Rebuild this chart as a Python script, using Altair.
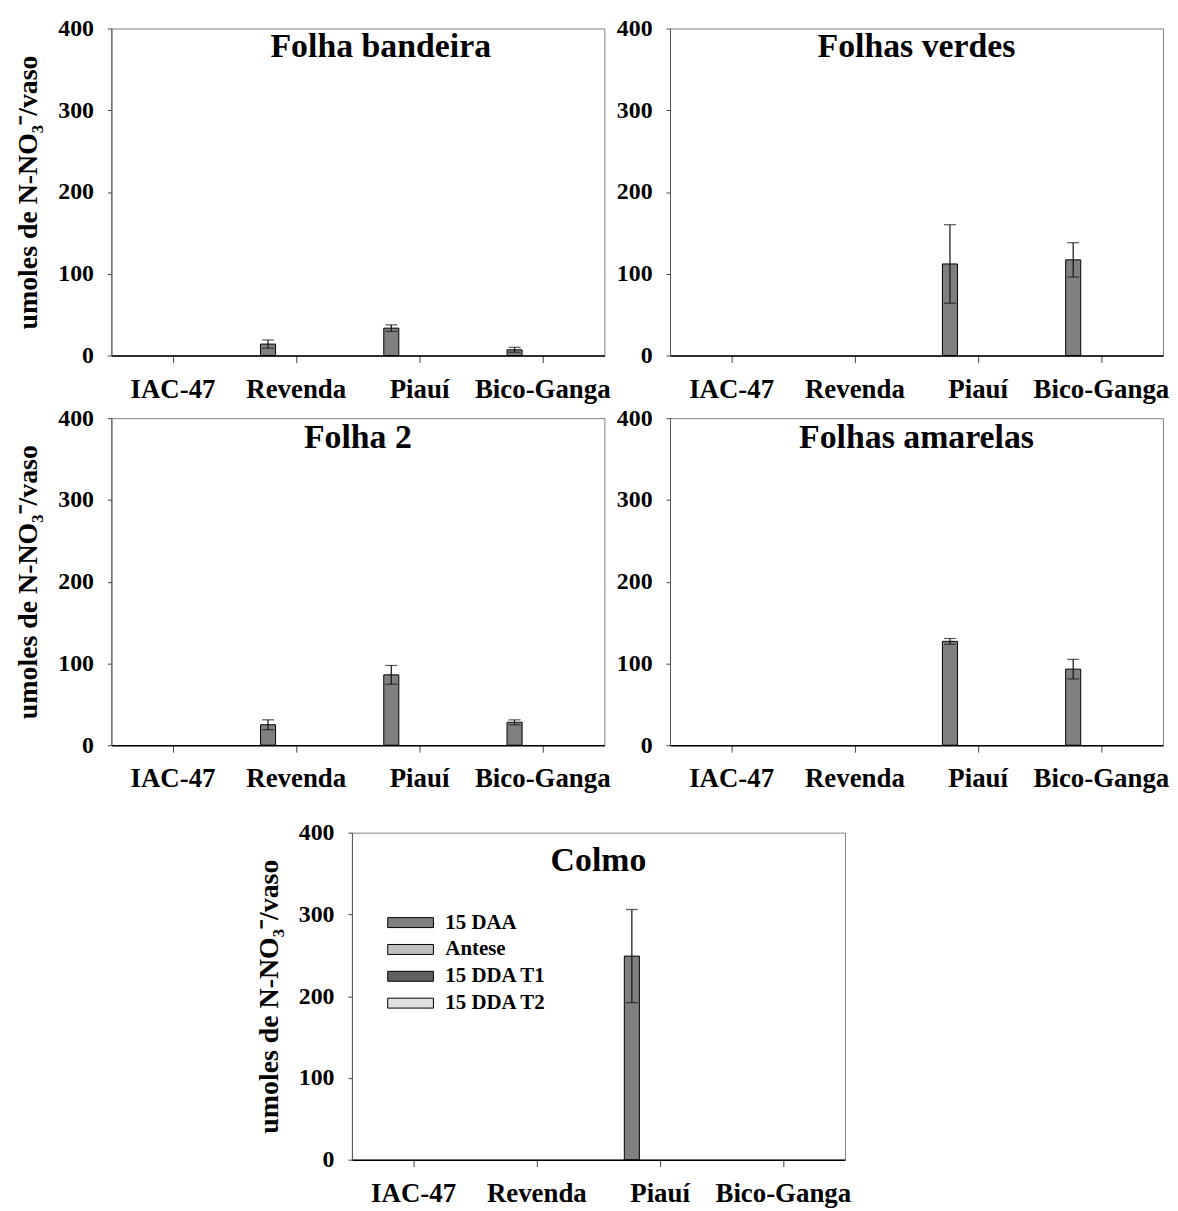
import altair as alt
import pandas as pd

cultivars = ["IAC-47", "Revenda", "Piauí", "Bico-Ganga"]
series = ["15 DAA", "Antese", "15 DDA T1", "15 DDA T2"]
series_colors = ["#808080", "#c0c0c0", "#606060", "#e0e0e0"]
panels = ["Folha bandeira", "Folhas verdes", "Folha 2", "Folhas amarelas", "Colmo"]

# 15 DAA means and error (cultivar order)
folha_bandeira_daa = [0, 14, 33.5, 7]
folha_bandeira_err = [0, 5, 4, 3]
folhas_verdes_daa = [0, 0, 112, 117]
folhas_verdes_err = [0, 0, 48, 21]
folha2_daa = [0, 25, 86, 28]
folha2_err = [0, 6, 11.5, 3]
folhas_amarelas_daa = [0, 0, 127, 93]
folhas_amarelas_err = [0, 0, 3.5, 12]
colmo_daa = [0, 0, 249, 0]
colmo_err = [0, 0, 57, 0]
# other series: zero everywhere
antese = [0, 0, 0, 0]
dda_t1 = [0, 0, 0, 0]
dda_t2 = [0, 0, 0, 0]

FONT = "Liberation Serif"
W, H = 496, 329
YTITLE = "umoles de N-NO\u2083\u207b/vaso"


def x_enc():
    return alt.X(
        "cultivar:N",
        sort=cultivars,
        scale=alt.Scale(domain=cultivars, paddingInner=0.42, paddingOuter=0.21),
        axis=alt.Axis(
            title=None, labelAngle=0, labelFont=FONT, labelFontWeight="bold",
            labelFontSize=27, labelColor="black", labelPadding=14, labelOverlap=False,
            tickSize=7, tickColor="#444", domainColor="black", domainWidth=1.5,
        ),
    )


def xo_enc():
    return alt.XOffset(
        "serie:N", sort=series,
        scale=alt.Scale(domain=series, paddingInner=0.2, paddingOuter=0),
    )


def y_enc(field, show_title):
    ax = dict(
        values=[0, 100, 200, 300, 400], grid=False, labelFlush=False,
        labelFont=FONT, labelFontWeight="bold", labelFontSize=24, labelColor="black",
        labelPadding=14, tickSize=4, tickColor="#444", domainColor="#555",
        titleFont=FONT, titleFontWeight="bold", titleFontSize=28, titleColor="black",
        titlePadding=15,
    )
    ax["title"] = YTITLE if show_title else None
    return alt.Y(field, scale=alt.Scale(domain=[0, 400], nice=False), axis=alt.Axis(**ax))


def panel(name, daa, err, show_ytitle, show_legend, title_dx, title_y):
    rows = []
    for s, vals in zip(series, [daa, antese, dda_t1, dda_t2]):
        for c, v in zip(cultivars, vals):
            rows.append({"cultivar": c, "serie": s, "valor": v})
    df = pd.DataFrame(rows)
    edf = pd.DataFrame({"cultivar": cultivars, "valor": daa, "err": err})
    edf["serie"] = series[0]
    edf = edf[edf["err"] > 0].copy()
    edf["lo"] = edf["valor"] - edf["err"]
    edf["hi"] = edf["valor"] + edf["err"]

    if show_legend:
        legend = alt.Legend(
            title=None, orient="none", legendX=48.5, legendY=80, padding=0,
            symbolType="M-4.6,-1H4.6V1H-4.6Z", symbolSize=100,
            symbolStrokeColor="black", symbolStrokeWidth=1, symbolOpacity=1,
            labelFont=FONT, labelFontWeight="bold", labelFontSize=21,
            labelColor="black", labelOffset=24.5, rowPadding=5,
        )
    else:
        legend = None

    color = alt.Color("serie:N", sort=series,
                      scale=alt.Scale(domain=series, range=series_colors),
                      legend=legend)

    bars = alt.Chart(df).transform_filter("datum.valor > 0").mark_bar(
        stroke="black", strokeWidth=1, opacity=1
    ).encode(
        x=x_enc(), xOffset=xo_enc(), y=y_enc("valor:Q", show_ytitle), color=color
    )
    rule = alt.Chart(edf).mark_rule(color="#111", strokeWidth=1.2).encode(
        x=x_enc(), xOffset=xo_enc(), y=y_enc("lo:Q", show_ytitle), y2="hi:Q"
    )
    cap_lo = alt.Chart(edf).mark_tick(color="#111", size=12, thickness=1.2).encode(
        x=x_enc(), xOffset=xo_enc(), y=y_enc("lo:Q", show_ytitle)
    )
    cap_hi = alt.Chart(edf).mark_tick(color="#111", size=12, thickness=1.2).encode(
        x=x_enc(), xOffset=xo_enc(), y=y_enc("hi:Q", show_ytitle)
    )
    title = alt.Chart(pd.DataFrame({"t": [name]})).mark_text(
        font=FONT, fontWeight="bold", fontSize=34, baseline="alphabetic",
        align="center", color="black",
    ).encode(text="t:N", x=alt.value(W / 2 + title_dx), y=alt.value(title_y))

    return alt.layer(bars, rule, cap_lo, cap_hi, title).properties(width=W, height=H)


p1 = panel(panels[0], folha_bandeira_daa, folha_bandeira_err, True, False, 23, 29)
p2 = panel(panels[1], folhas_verdes_daa, folhas_verdes_err, False, False, 0, 29)
p3 = panel(panels[2], folha2_daa, folha2_err, True, False, 0, 30)
p4 = panel(panels[3], folhas_amarelas_daa, folhas_amarelas_err, False, False, 0, 30)
p5 = panel(panels[4], colmo_daa, colmo_err, True, True, 0, 39)

spacer = alt.Chart(pd.DataFrame({"a": [0]})).mark_rect(opacity=0).encode(
    x=alt.value(0), x2=alt.value(224), y=alt.value(0), y2=alt.value(10)
).properties(width=224, height=10, view=alt.ViewBackground(stroke=None))

row1 = alt.hconcat(p1, p2, spacing=66, bounds="flush").resolve_scale(color="independent")
row2 = alt.hconcat(p3, p4, spacing=66, bounds="flush").resolve_scale(color="independent")
top = alt.vconcat(row1, row2, spacing=2).resolve_scale(color="independent")
row3 = alt.hconcat(spacer, p5, spacing=18, bounds="flush").resolve_scale(color="independent")

chart = alt.vconcat(top, row3, spacing=27).resolve_scale(
    color="independent"
).properties(
    padding={"left": 6, "top": 4, "right": 0, "bottom": 0},
    background="white",
).configure_view(stroke="#808080", strokeWidth=1)

chart.save("out.html", embed_options={"renderer": "svg", "actions": False})
